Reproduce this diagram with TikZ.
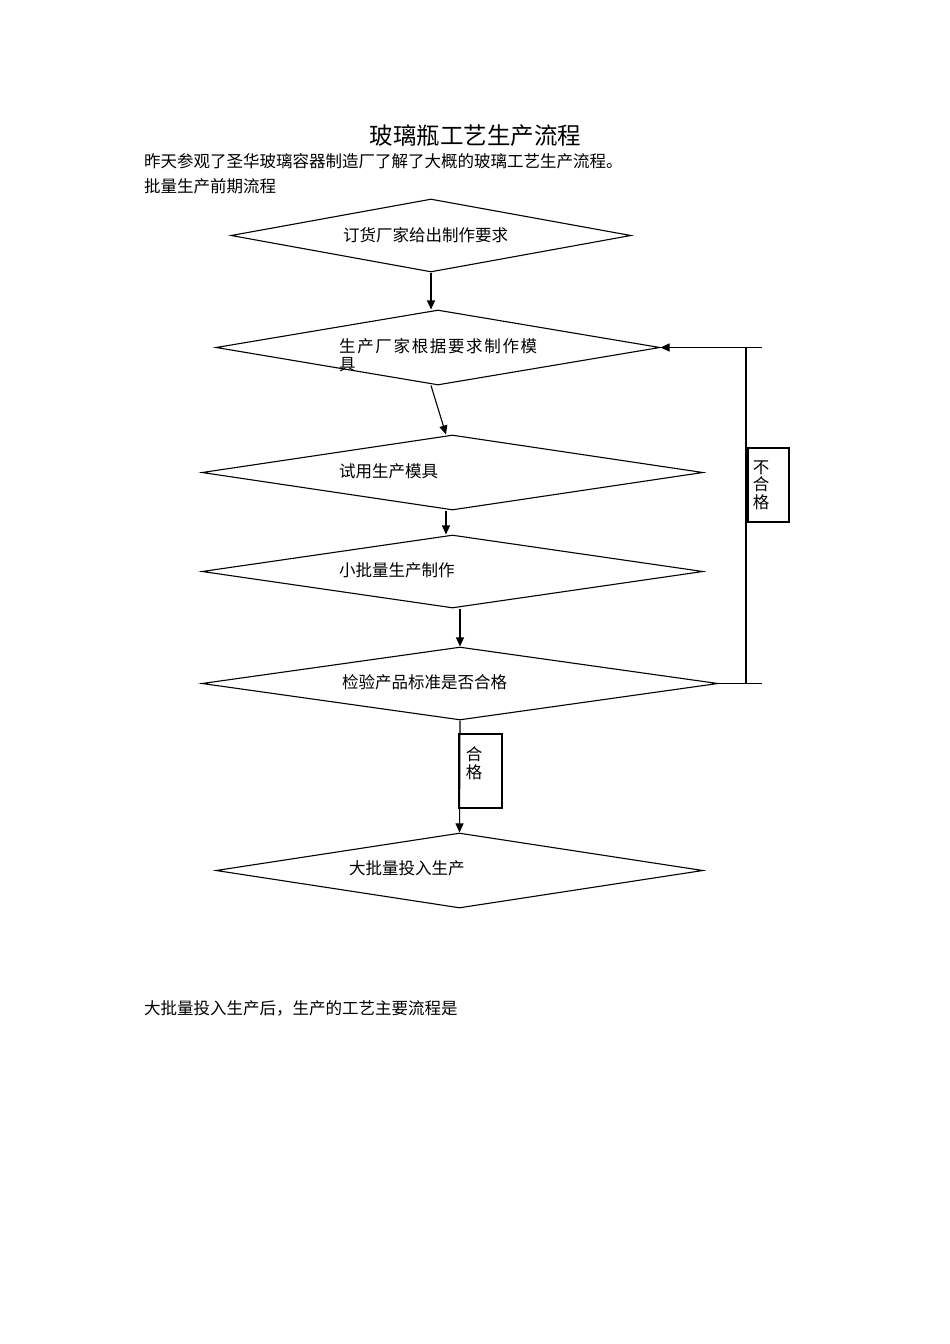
\documentclass[tikz,border=0pt]{standalone}
\usepackage{fontspec}
\setmainfont{Noto Sans CJK SC}
\newfontfamily\cjksp[LetterSpace=10]{Noto Sans CJK SC}
\usetikzlibrary{arrows.meta,shapes.geometric}
\begin{document}
\begin{tikzpicture}[x=1pt,y=-1pt,
  dia/.style={draw,diamond,inner sep=0pt,line width=1.1pt},
  arr/.style={draw,line width=1.1pt,-{Triangle[length=9pt,width=8pt]}},
  ln/.style={draw,line width=1.1pt},
  txt/.style={anchor=west,inner sep=0pt,font=\fontsize{16.5}{18}\selectfont},
  box/.style={draw,line width=1.1pt,inner sep=0pt},
  vtxt/.style={inner sep=0pt,align=center,font=\fontsize{16.5}{17.5}\selectfont}]
\useasboundingbox (0,0) rectangle (950,1344);

% header texts
\node[inner sep=0pt,font=\fontsize{23.5}{26}\selectfont] (title) at (475.5,136) {玻璃瓶工艺生产流程};
\node[txt] (intro) at (144,161) {昨天参观了圣华玻璃容器制造厂了解了大概的玻璃工艺生产流程。};
\node[txt] (sub) at (144,186) {批量生产前期流程};

% diamonds
\node[dia,minimum width=400pt,minimum height=73pt] (d1) at (431,235.5) {};
\node[dia,minimum width=444pt,minimum height=75pt] (d2) at (438,347.5) {};
\node[dia,minimum width=501pt,minimum height=75pt] (d3) at (452.5,472.5) {};
\node[dia,minimum width=501pt,minimum height=73pt] (d4) at (452.5,571.5) {};
\node[dia,minimum width=516pt,minimum height=73pt] (d5) at (460,683.5) {};
\node[dia,minimum width=487pt,minimum height=75pt] (d6) at (459.5,870.5) {};

% diamond texts
\node[txt] (t1) at (343,235) {订货厂家给出制作要求};
\node[txt,align=left,font=\cjksp\fontsize{16.5}{18}\selectfont] (t2) at (339,355) {生产厂家根据要求制作模\\具};
\node[txt] (t3) at (339,471) {试用生产模具};
\node[txt] (t4) at (339,570) {小批量生产制作};
\node[txt] (t5) at (342,682) {检验产品标准是否合格};
\node[txt] (t6) at (349,868) {大批量投入生产};

% connectors
\draw[arr] (d1.south) -- (d1.south |- d2.north);
\draw[arr] ([xshift=-7pt]d2.south) -- ([xshift=-6.5pt]d3.north);
\draw[arr] ([xshift=-6.5pt]d3.south) -- ([xshift=-6.5pt]d3.south |- d4.north);
\draw[arr] (d5.north |- d4.south) -- (d5.north);

% fail loop
\coordinate (r1) at (762,683.5);
\coordinate (r2) at (762,347.5);
\coordinate (v1) at (746,683.5);
\coordinate (v2) at (746,347.5);
\draw[ln] (d5.east) -- (r1);
\draw[ln] (v1) -- (v2);
\draw[arr] (r2) -- (d2.east);
\node[box,minimum width=41pt,minimum height=74pt] (nobox) at (768.5,485) {};
\node[vtxt] (nolbl) at (761,485) {不\\合\\格};

% pass
\draw[arr] (d5.south) -- (d6.north);
\node[box,minimum width=43pt,minimum height=74pt] (okbox) at (480.5,771) {};
\node[vtxt] (oklbl) at (474,763) {合\\格};

% footer
\node[txt] (after) at (144,1008) {大批量投入生产后，生产的工艺主要流程是};
\end{tikzpicture}
\end{document}
